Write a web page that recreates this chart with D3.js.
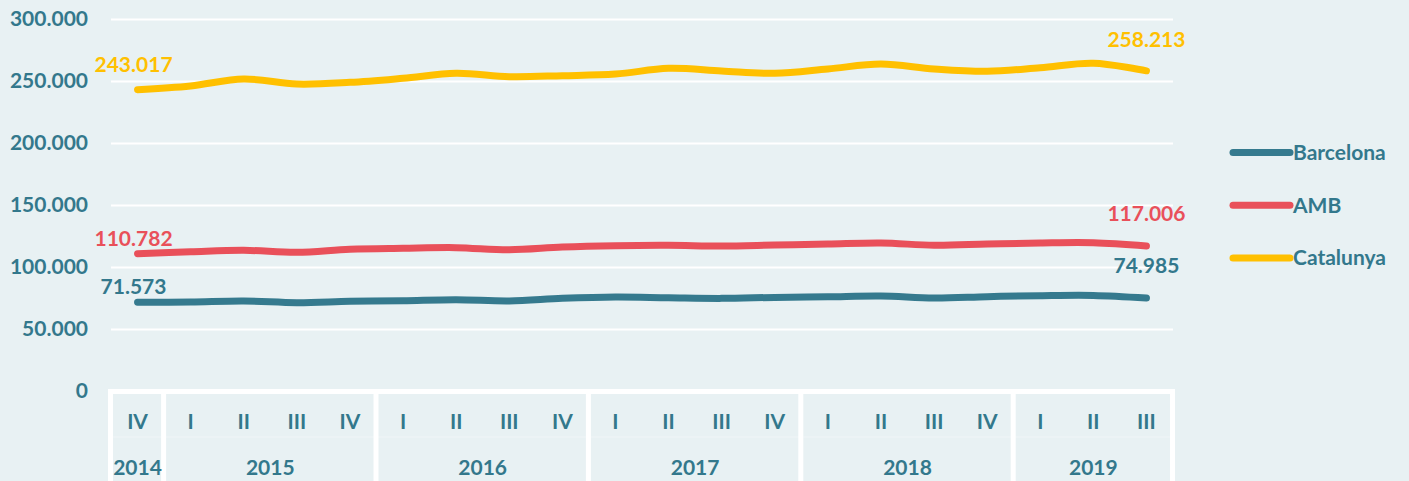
<!DOCTYPE html>
<html>
<head>
<meta charset="utf-8">
<script src="https://cdn.jsdelivr.net/npm/d3@7"></script>
<style>
    html, body { margin: 0; padding: 0; background: #e8f1f3; }
    svg { display: block; font-family: Lato, "Open Sans", sans-serif; font-weight: bold; }
</style>
</head>
<body>
<div id="chart"></div>
<script>
(function() {
    // quarters and the year each one belongs to
    var quarters = ["IV","I","II","III","IV","I","II","III","IV","I","II","III","IV","I","II","III","IV","I","II","III"];
    var quarterYears = ["2014","2015","2015","2015","2015","2016","2016","2016","2016","2017","2017","2017","2017","2018","2018","2018","2018","2019","2019","2019"];

    var barcelona = [71573, 71800, 72600, 71200, 72300, 72800, 73600, 72600, 74700, 75800, 75200, 74700, 75500, 76000, 76600, 75000, 76100, 76900, 77100, 74985];
    var amb = [110782, 112300, 113500, 111800, 114300, 115100, 115600, 113900, 116100, 117200, 117500, 116900, 117700, 118500, 119400, 117500, 118500, 119400, 119600, 117006];
    var catalunya = [243017, 246000, 251600, 247500, 248900, 252200, 256200, 253500, 254300, 255600, 260200, 258100, 256200, 259700, 263700, 259700, 257800, 260700, 264300, 258213];

    var yTicks = [0, 50000, 100000, 150000, 200000, 250000, 300000];

    var seriesNames = ["Barcelona", "AMB", "Catalunya"];
    var seriesColors = ["#357a8e", "#e9505a", "#ffc000"];
    var seriesData = [barcelona, amb, catalunya];

    var textColor = "#33788c";
    var fontSize = "21px";
    var width = 1409, height = 481;
    var left = 111, right = 1173, top = 19, bottom = 391;

    var locale = d3.formatLocale({decimal: ",", thousands: ".", grouping: [3], currency: ["", " €"]});
    var fmt = locale.format(",d");

    var x = d3.scalePoint()
        .domain(d3.range(quarters.length))
        .range([left, right])
        .padding(0.5);
    var step = x.step();

    var y = d3.scaleLinear()
        .domain([0, 300000])
        .range([bottom, top]);

    var svg = d3.select("#chart").append("svg")
        .attr("width", width)
        .attr("height", height);

    svg.append("rect")
        .attr("width", width)
        .attr("height", height)
        .attr("fill", "#e8f1f3");

    // y axis with gridlines
    var yAxis = svg.append("g")
        .attr("transform", "translate(" + left + ",0)")
        .call(d3.axisLeft(y).tickValues(yTicks).tickFormat(fmt).tickSize(-(right - left)).tickPadding(23));
    yAxis.select(".domain").remove();
    yAxis.selectAll(".tick line")
        .attr("stroke", "#ffffff")
        .attr("stroke-width", 2)
        .attr("opacity", d => d === 0 ? 0 : 1);
    yAxis.selectAll(".tick text")
        .attr("fill", textColor)
        .style("font-size", fontSize)
        .style("font-family", "Lato, 'Open Sans', sans-serif")
        .style("font-weight", "bold");

    // category table under the plot
    var table = svg.append("g");
    table.append("line")
        .attr("x1", left + 0.5 - 3)
        .attr("x2", right + 2)
        .attr("y1", bottom + 0.5)
        .attr("y2", bottom + 0.5)
        .attr("stroke", "#ffffff")
        .attr("stroke-width", 5);
    table.append("line")
        .attr("x1", left)
        .attr("x2", right)
        .attr("y1", 437)
        .attr("y2", 437)
        .attr("stroke", "#ffffff")
        .attr("stroke-opacity", 0.35)
        .attr("stroke-width", 1);

    var yearGroups = d3.groups(d3.range(quarters.length), i => quarterYears[i]);
    var edges = [left].concat(yearGroups.map(g => x(g[1][g[1].length - 1]) + step / 2));
    table.selectAll(".sep")
        .data(edges)
        .enter()
        .append("line")
        .attr("class", "sep")
        .attr("x1", d => d - 0.5)
        .attr("x2", d => d - 0.5)
        .attr("y1", bottom - 2)
        .attr("y2", height)
        .attr("stroke", "#ffffff")
        .attr("stroke-width", 5);

    table.selectAll(".quarter")
        .data(quarters)
        .enter()
        .append("text")
        .attr("class", "quarter")
        .attr("x", (d, i) => x(i))
        .attr("y", 429)
        .attr("text-anchor", "middle")
        .attr("fill", textColor)
        .style("font-size", fontSize)
        .text(d => d);

    table.selectAll(".year")
        .data(yearGroups)
        .enter()
        .append("text")
        .attr("class", "year")
        .attr("x", g => (x(g[1][0]) + x(g[1][g[1].length - 1])) / 2)
        .attr("y", 475)
        .attr("text-anchor", "middle")
        .attr("fill", textColor)
        .style("font-size", fontSize)
        .text(g => g[0]);

    // lines
    var line = d3.line()
        .x((d, i) => x(i))
        .y(d => y(d))
        .curve(d3.curveCatmullRom.alpha(0.5));

    svg.selectAll(".series")
        .data(seriesData)
        .enter()
        .append("path")
        .attr("class", "series")
        .attr("d", d => line(d))
        .attr("fill", "none")
        .attr("stroke", (d, i) => seriesColors[i])
        .attr("stroke-width", 7)
        .attr("stroke-linecap", "round")
        .attr("stroke-linejoin", "round");

    // first and last value labels (offset above the point)
    var labelLift = [[8, 25], [8, 25], [18, 24]];
    var last = quarters.length - 1;
    seriesData.forEach(function(s, k) {
        [0, last].forEach(function(i, j) {
            svg.append("text")
                .attr("x", x(i) + (j === 0 ? -4 : 0))
                .attr("y", y(s[i]) - labelLift[k][j])
                .attr("text-anchor", "middle")
                .attr("fill", k === 0 ? textColor : seriesColors[k])
                .style("font-size", fontSize)
                .text(fmt(s[i]));
        });
    });

    // legend
    var legend = svg.selectAll(".legend")
        .data(seriesNames)
        .enter()
        .append("g")
        .attr("class", "legend")
        .attr("transform", (d, i) => "translate(1233," + (152.5 + i * 52.7) + ")");
    legend.append("line")
        .attr("x1", 0)
        .attr("x2", 57)
        .attr("stroke", (d, i) => seriesColors[i])
        .attr("stroke-width", 7)
        .attr("stroke-linecap", "round");
    legend.append("text")
        .attr("x", 60)
        .attr("dy", "0.36em")
        .attr("fill", textColor)
        .style("font-size", fontSize)
        .text(d => d);
})();
</script>
</body>
</html>
